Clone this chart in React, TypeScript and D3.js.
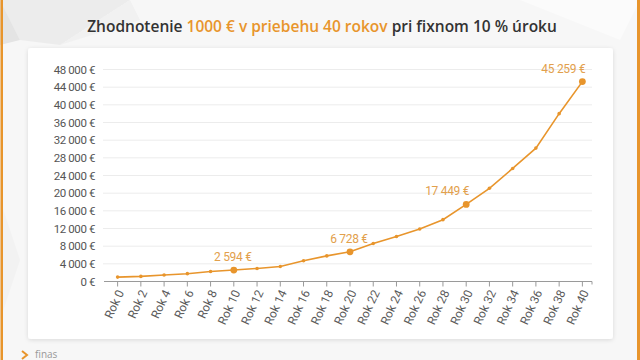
import React from "react";
import * as d3 from "d3";

const years: string[] = ["Rok 0","Rok 2","Rok 4","Rok 6","Rok 8","Rok 10","Rok 12","Rok 14","Rok 16","Rok 18","Rok 20","Rok 22","Rok 24","Rok 26","Rok 28","Rok 30","Rok 32","Rok 34","Rok 36","Rok 38","Rok 40"];
const values: number[] = [1000, 1150, 1464, 1772, 2250, 2594, 2950, 3400, 4700, 5800, 6728, 8600, 10200, 11900, 14000, 17449, 21100, 25600, 30200, 38000, 45259];
const highlighted: string[] = ["Rok 10", "Rok 20", "Rok 30", "Rok 40"];
const yTicks: number[] = [0, 4000, 8000, 12000, 16000, 20000, 24000, 28000, 32000, 36000, 40000, 44000, 48000];
const titleParts: { text: string; accent: boolean }[] = [
  { text: "Zhodnotenie ", accent: false },
  { text: "1000 € v priebehu 40 rokov", accent: true },
  { text: " pri fixnom 10 % úroku", accent: false },
];

const fmt = (n: number) => String(Math.round(n)).replace(/\B(?=(\d{3})+(?!\d))/g, " ") + " €";

const ORANGE = "#E8952C";
const LABEL_ORANGE = "#E2A04C";
const LABEL_FONT = "Roboto, sans-serif";

export default function App() {
  const W = 640, H = 360;
  const x = d3.scaleBand<string>().domain(years).range([106, 594]).padding(0);
  const y = d3.scaleLinear().domain([0, 48000]).range([281.5, 69.5]);
  const cx = (k: string) => (x(k) as number) + x.bandwidth() / 2;
  const line = d3.line<number>().x((_, i) => cx(years[i])).y((d) => y(d));

  return (
    <svg width={W} height={H} style={{ position: "fixed", left: 0, top: 0, background: "#f6f6f6" }}>
      <defs>
        <filter id="sh" x="-5%" y="-5%" width="110%" height="115%">
          <feDropShadow dx="0" dy="1" stdDeviation="2" floodColor="#000" floodOpacity="0.12" />
        </filter>
      </defs>
      {/* background polygons */}
      <rect x={0} y={0} width={W} height={H} fill="#f7f7f7" />
      <polygon points="0,0 130,0 60,45 20,40" fill="#ececec" />
      <polygon points="0,0 20,40 0,45" fill="#e4e4e4" />
      <polygon points="60,45 130,0 140,20" fill="#f1f1f1" />
      <polygon points="520,0 640,0 620,40" fill="#fbfbfb" />
      <polygon points="0,200 20,260 0,320" fill="#f2f2f2" />
      <rect x={0.5} y={0} width={2.5} height={H} fill="#E8952C" />
      <rect x={637} y={0} width={3} height={H} fill="#E8952C" />

      {/* title */}
      <text x={322} y={32} textAnchor="middle" fontFamily="'Open Sans', sans-serif" fontWeight={600} fontSize={15.5} fill="#333">
        {titleParts.map((p, i) => (
          <tspan key={i} fill={p.accent ? ORANGE : "#333"}>{p.text}</tspan>
        ))}
      </text>

      {/* card */}
      <rect x={28} y={48} width={585} height={291} rx={3} fill="#fff" filter="url(#sh)" />

      {/* grid + y labels */}
      {yTicks.map((t) => (
        <g key={t}>
          {t > 0 && <line x1={103} x2={592} y1={y(t)} y2={y(t)} stroke="#ececec" strokeWidth={1} />}
          <text x={95} y={y(t)} dy="0.35em" textAnchor="end" fontFamily={LABEL_FONT} fontSize={11.5} letterSpacing={-0.4} fill="#555">
            {fmt(t)}
          </text>
        </g>
      ))}

      {/* x axis */}
      <line x1={104} x2={592} y1={y(0)} y2={y(0)} stroke="#9a9a9a" strokeWidth={1} />
      {years.map((k) => (
        <g key={k}>
          <line x1={cx(k)} x2={cx(k)} y1={y(0)} y2={y(0) + 5} stroke="#9a9a9a" strokeWidth={1} />
          <text
            transform={`translate(${cx(k) + 3},${y(0) + 9}) rotate(-65)`}
            textAnchor="end"
            dy="0.35em"
            fontFamily={LABEL_FONT}
            fontSize={12}
            fill="#5a5a5a"
          >
            {k}
          </text>
        </g>
      ))}
      <line x1={592} x2={592} y1={y(0)} y2={y(0) + 3} stroke="#9a9a9a" strokeWidth={1} />

      {/* line */}
      <path d={line(values) || ""} fill="none" stroke={ORANGE} strokeWidth={1.6} />
      {values.map((v, i) => {
        const big = highlighted.includes(years[i]);
        return <circle key={i} cx={cx(years[i])} cy={y(v)} r={big ? 3.4 : 1.8} fill={ORANGE} />;
      })}
      {values.map((v, i) => {
        const hi = highlighted.indexOf(years[i]);
        if (hi < 0) return null;
        const anchor = hi >= 2 ? "end" : "middle";
        const dx = hi >= 2 ? 3 : -1;
        return (
          <text key={"l" + i} x={cx(years[i]) + dx} y={y(v) - 9} textAnchor={anchor} fontFamily={LABEL_FONT} fontWeight={400} fontSize={12} letterSpacing={-0.3} fill={LABEL_ORANGE}>
            {fmt(v)}
          </text>
        );
      })}

      {/* footer logo fragment */}
      <path d="M22,351 L27,355 L22,359" fill="none" stroke={ORANGE} strokeWidth={2} />
      <text x={35} y={358} fontFamily="'Open Sans', sans-serif" fontSize={10} fill="#999">finas</text>
    </svg>
  );
}
